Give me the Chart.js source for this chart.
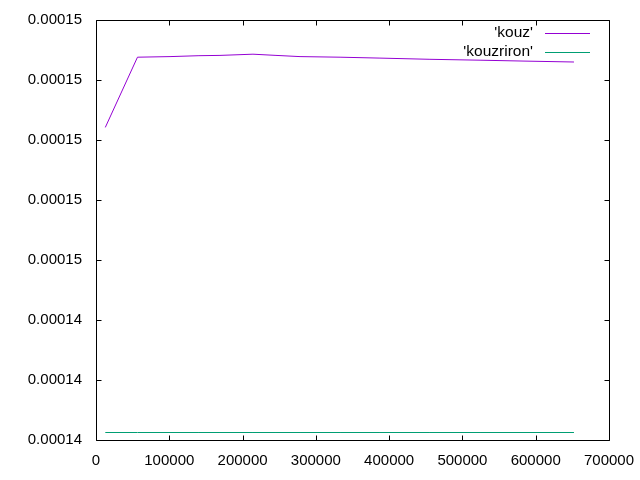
<!DOCTYPE html>
<html>
<head>
<meta charset="utf-8">
<script src="https://cdn.jsdelivr.net/npm/chart.js@4/dist/chart.umd.min.js"></script>
<style>
  body { margin: 0; background: #fff; }
</style>
</head>
<body>
<canvas id="plot" width="640" height="480"></canvas>
<script>
var labels = ["'kouz'", "'kouzriron'"];
var xValues = [12700, 56600, 101000, 140500, 169200, 214200, 245600, 278400, 333000, 387500, 455700, 524000, 585400, 652200];
var kouz = [0.00015042, 0.00015276, 0.00015278, 0.00015281, 0.00015282, 0.00015286, 0.00015282, 0.00015278, 0.00015276, 0.00015273, 0.00015269, 0.00015266, 0.00015263, 0.00015260];
var kouzriron = [0.00014025, 0.00014025, 0.00014025, 0.00014025, 0.00014025, 0.00014025, 0.00014025, 0.00014025, 0.00014025, 0.00014025, 0.00014025, 0.00014025, 0.00014025, 0.00014025];
var colors = ['#9400d3', '#009e73'];

function points(ys){
	var out = [];
	for(var i=0; i<xValues.length; i++){
		out.push({x: xValues[i], y: ys[i]});
	}
	return out;
}

Chart.defaults.font.family = "'Liberation Sans', Arial, sans-serif";
Chart.defaults.font.size = 15;
Chart.defaults.color = '#000';

// gnuplot style frame with inward ticks on all four sides
var frame = {
	id: 'frame',
	afterDraw: function(chart){
		var c = chart.ctx, a = chart.chartArea;
		var L = Math.round(a.left)+0.5, R = Math.round(a.right)+0.5;
		var T = Math.round(a.top)+0.5, B = Math.round(a.bottom)+0.5;
		c.save();
		c.strokeStyle = '#000';
		c.lineWidth = 1;
		c.beginPath();
		c.rect(L, T, R-L, B-T);
		var xs = chart.scales.x, ys = chart.scales.y;
		xs.ticks.forEach(function(t, i){
			var p = Math.round(xs.getPixelForTick(i))+0.5;
			c.moveTo(p, B); c.lineTo(p, B-5);
			c.moveTo(p, T); c.lineTo(p, T+5);
		});
		ys.ticks.forEach(function(t, i){
			var p = Math.round(ys.getPixelForTick(i))+0.5;
			c.moveTo(L, p); c.lineTo(L+5, p);
			c.moveTo(R, p); c.lineTo(R-5, p);
		});
		c.stroke();
		// key, top right inside
		c.font = "15.5px 'Liberation Sans', Arial, sans-serif";
		c.textAlign = 'right';
		c.textBaseline = 'middle';
		chart.data.datasets.forEach(function(ds, i){
			var y = 33 + i*19;
			c.fillStyle = '#000';
			c.fillText(ds.label, 533, y);
			c.strokeStyle = ds.borderColor;
			c.beginPath();
			c.moveTo(545, y+0.5); c.lineTo(590, y+0.5);
			c.stroke();
		});
		c.restore();
	}
};

var ctx = document.getElementById('plot');
var myChart = new Chart(ctx, {
	type: 'line',
	data: {
		datasets: [{
			label: labels[0],
			data: points(kouz),
			borderColor: colors[0],
			borderWidth: 1,
			pointRadius: 0,
			tension: 0
		}, {
			label: labels[1],
			data: points(kouzriron),
			borderColor: colors[1],
			borderWidth: 1,
			pointRadius: 0,
			tension: 0
		}]
	},
	options: {
		responsive: false,
		animation: false,
		devicePixelRatio: 1,
		layout: { padding: { top: 20, right: 31, left: 0, bottom: 0 } },
		plugins: { legend: { display: false }, tooltip: { enabled: false } },
		scales: {
			x: {
				type: 'linear',
				min: 0, max: 700000,
				border: { display: false },
				grid: { display: false, drawTicks: false },
				ticks: { stepSize: 100000, padding: 12, maxRotation: 0,
					callback: function(v){ return String(v); } },
				afterFit: function(s){ s.height = 40; s.paddingLeft = 0; s.paddingRight = 0; }
			},
			y: {
				min: 0.000140, max: 0.000154,
				border: { display: false },
				grid: { display: false, drawTicks: false },
				ticks: { stepSize: 0.000002, padding: 14,
					callback: function(v){ return v.toFixed(5); } },
				afterFit: function(s){ s.width = 96; s.paddingTop = 0; s.paddingBottom = 0; }
			}
		}
	},
	plugins: [frame]
});
</script>
</body>
</html>
